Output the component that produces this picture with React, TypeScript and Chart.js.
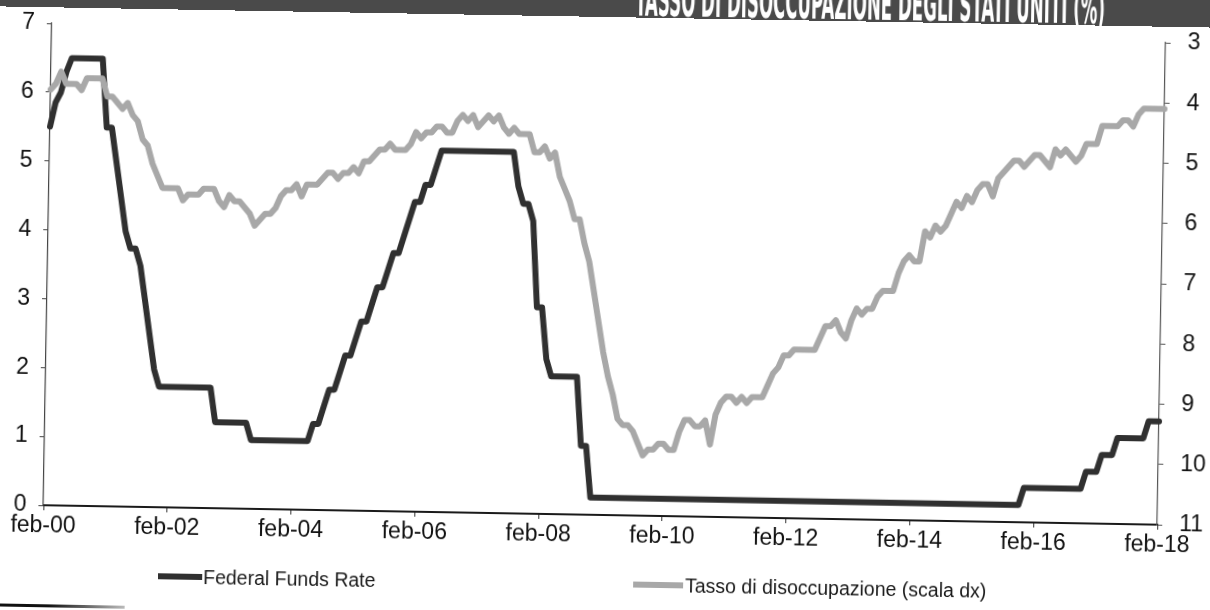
import React, { useEffect, useRef } from 'react';
import { Chart, registerables } from 'chart.js';

Chart.register(...registerables);

const MONTHS_IT = ['gen', 'feb', 'mar', 'apr', 'mag', 'giu', 'lug', 'ago', 'set', 'ott', 'nov', 'dic'];
const YEARS = [2000, 2001, 2002, 2003, 2004, 2005, 2006, 2007, 2008, 2009, 2010, 2011, 2012, 2013, 2014, 2015, 2016, 2017, 2018];

// monthly categories feb-00 ... feb-18
const LABELS: string[] = [];
for (const y of YEARS) {
  for (let m = 0; m < 12; m++) {
    if (y === 2000 && m < 1) continue;
    if (y === 2018 && m > 1) continue;
    LABELS.push(`${MONTHS_IT[m]}-${String(y).slice(2)}`);
  }
}
const TICK_EVERY = 24;

// Federal Funds Rate (%), monthly
const FFR_2000 = [5.5, 5.85, 6.0, 6.3, 6.5, 6.5, 6.5, 6.5, 6.5, 6.5, 6.5];
const FFR_2001 = [5.5, 5.5, 5.0, 4.5, 4.0, 3.75, 3.75, 3.5, 3.0, 2.5, 2.0, 1.75];
const FFR_2002 = [1.75, 1.75, 1.75, 1.75, 1.75, 1.75, 1.75, 1.75, 1.75, 1.75, 1.25, 1.25];
const FFR_2003 = [1.25, 1.25, 1.25, 1.25, 1.25, 1.0, 1.0, 1.0, 1.0, 1.0, 1.0, 1.0];
const FFR_2004 = [1.0, 1.0, 1.0, 1.0, 1.0, 1.25, 1.25, 1.5, 1.75, 1.75, 2.0, 2.25];
const FFR_2005 = [2.25, 2.5, 2.75, 2.75, 3.0, 3.25, 3.25, 3.5, 3.75, 3.75, 4.0, 4.25];
const FFR_2006 = [4.5, 4.5, 4.75, 4.75, 5.0, 5.25, 5.25, 5.25, 5.25, 5.25, 5.25, 5.25];
const FFR_2007 = [5.25, 5.25, 5.25, 5.25, 5.25, 5.25, 5.25, 5.25, 4.75, 4.5, 4.5, 4.25];
const FFR_2008 = [3.0, 3.0, 2.25, 2.0, 2.0, 2.0, 2.0, 2.0, 2.0, 1.0, 1.0, 0.25];
const FFR_2009 = [0.25, 0.25, 0.25, 0.25, 0.25, 0.25, 0.25, 0.25, 0.25, 0.25, 0.25, 0.25];
const FFR_2010 = [0.25, 0.25, 0.25, 0.25, 0.25, 0.25, 0.25, 0.25, 0.25, 0.25, 0.25, 0.25];
const FFR_2011 = [0.25, 0.25, 0.25, 0.25, 0.25, 0.25, 0.25, 0.25, 0.25, 0.25, 0.25, 0.25];
const FFR_2012 = [0.25, 0.25, 0.25, 0.25, 0.25, 0.25, 0.25, 0.25, 0.25, 0.25, 0.25, 0.25];
const FFR_2013 = [0.25, 0.25, 0.25, 0.25, 0.25, 0.25, 0.25, 0.25, 0.25, 0.25, 0.25, 0.25];
const FFR_2014 = [0.25, 0.25, 0.25, 0.25, 0.25, 0.25, 0.25, 0.25, 0.25, 0.25, 0.25, 0.25];
const FFR_2015 = [0.25, 0.25, 0.25, 0.25, 0.25, 0.25, 0.25, 0.25, 0.25, 0.25, 0.25, 0.5];
const FFR_2016 = [0.5, 0.5, 0.5, 0.5, 0.5, 0.5, 0.5, 0.5, 0.5, 0.5, 0.5, 0.75];
const FFR_2017 = [0.75, 0.75, 1.0, 1.0, 1.0, 1.25, 1.25, 1.25, 1.25, 1.25, 1.25, 1.5];
const FFR_2018 = [1.5, 1.5];

// Tasso di disoccupazione USA (%), monthly
const UNEMP_2000 = [4.1, 4.0, 3.8, 4.0, 4.0, 4.0, 4.1, 3.9, 3.9, 3.9, 3.9];
const UNEMP_2001 = [4.2, 4.2, 4.3, 4.4, 4.3, 4.5, 4.6, 4.9, 5.0, 5.3, 5.5, 5.7];
const UNEMP_2002 = [5.7, 5.7, 5.7, 5.9, 5.8, 5.8, 5.8, 5.7, 5.7, 5.7, 5.9, 6.0];
const UNEMP_2003 = [5.8, 5.9, 5.9, 6.0, 6.1, 6.3, 6.2, 6.1, 6.1, 6.0, 5.8, 5.7];
const UNEMP_2004 = [5.7, 5.6, 5.8, 5.6, 5.6, 5.6, 5.5, 5.4, 5.4, 5.5, 5.4, 5.4];
const UNEMP_2005 = [5.3, 5.4, 5.2, 5.2, 5.1, 5.0, 5.0, 4.9, 5.0, 5.0, 5.0, 4.9];
const UNEMP_2006 = [4.7, 4.8, 4.7, 4.7, 4.6, 4.6, 4.7, 4.7, 4.5, 4.4, 4.5, 4.4];
const UNEMP_2007 = [4.6, 4.5, 4.4, 4.5, 4.4, 4.6, 4.7, 4.6, 4.7, 4.7, 4.7, 5.0];
const UNEMP_2008 = [5.0, 4.9, 5.1, 5.0, 5.4, 5.6, 5.8, 6.1, 6.1, 6.5, 6.8, 7.3];
const UNEMP_2009 = [7.8, 8.3, 8.7, 9.0, 9.4, 9.5, 9.5, 9.6, 9.8, 10.0, 9.9, 9.9];
const UNEMP_2010 = [9.8, 9.8, 9.9, 9.9, 9.6, 9.4, 9.4, 9.5, 9.5, 9.4, 9.8, 9.3];
const UNEMP_2011 = [9.1, 9.0, 9.0, 9.1, 9.0, 9.1, 9.0, 9.0, 9.0, 8.8, 8.6, 8.5];
const UNEMP_2012 = [8.3, 8.3, 8.2, 8.2, 8.2, 8.2, 8.2, 8.0, 7.8, 7.8, 7.7, 7.9];
const UNEMP_2013 = [8.0, 7.7, 7.5, 7.6, 7.5, 7.5, 7.3, 7.2, 7.2, 7.2, 6.9, 6.7];
const UNEMP_2014 = [6.6, 6.7, 6.7, 6.2, 6.3, 6.1, 6.2, 6.1, 5.9, 5.7, 5.8, 5.6];
const UNEMP_2015 = [5.7, 5.5, 5.4, 5.4, 5.6, 5.3, 5.2, 5.1, 5.0, 5.0, 5.1, 5.0];
const UNEMP_2016 = [4.9, 4.9, 5.0, 5.1, 4.8, 4.9, 4.8, 4.9, 5.0, 4.9, 4.7, 4.7];
const UNEMP_2017 = [4.7, 4.4, 4.4, 4.4, 4.4, 4.3, 4.3, 4.4, 4.2, 4.1, 4.1, 4.1];
const UNEMP_2018 = [4.1, 4.1];

const FFR = [
  ...FFR_2000, ...FFR_2001, ...FFR_2002, ...FFR_2003, ...FFR_2004, ...FFR_2005, ...FFR_2006,
  ...FFR_2007, ...FFR_2008, ...FFR_2009, ...FFR_2010, ...FFR_2011, ...FFR_2012, ...FFR_2013,
  ...FFR_2014, ...FFR_2015, ...FFR_2016, ...FFR_2017, ...FFR_2018,
];
const UNEMP = [
  ...UNEMP_2000, ...UNEMP_2001, ...UNEMP_2002, ...UNEMP_2003, ...UNEMP_2004, ...UNEMP_2005,
  ...UNEMP_2006, ...UNEMP_2007, ...UNEMP_2008, ...UNEMP_2009, ...UNEMP_2010, ...UNEMP_2011,
  ...UNEMP_2012, ...UNEMP_2013, ...UNEMP_2014, ...UNEMP_2015, ...UNEMP_2016, ...UNEMP_2017,
  ...UNEMP_2018,
];

const SERIES_NAMES = ['Federal Funds Rate', 'Tasso di disoccupazione (scala dx)'];
const TITLE = 'TASSO DI DISOCCUPAZIONE DEGLI STATI UNITI (%)';

const FFR_COLOR = '#303030';
const UNEMP_COLOR = '#a8a8a8';
const FONT = "'Liberation Sans', Arial, sans-serif";

export default function App() {
  const canvasRef = useRef<HTMLCanvasElement | null>(null);
  const titleRef = useRef<HTMLSpanElement | null>(null);

  useEffect(() => {
    const t = titleRef.current;
    if (t) {
      const w = t.offsetWidth;
      if (w > 0) t.style.transform = `scaleX(${470 / w})`;
    }
    const canvas = canvasRef.current;
    if (!canvas) return;
    const chart = new Chart(canvas, {
      type: 'line',
      data: {
        labels: LABELS,
        datasets: [
          {
            label: SERIES_NAMES[0],
            data: FFR,
            yAxisID: 'y',
            borderColor: FFR_COLOR,
            backgroundColor: FFR_COLOR,
            borderWidth: 6,
            pointRadius: 0,
            tension: 0,
            borderJoinStyle: 'round',
            borderCapStyle: 'round',
            order: 2,
          },
          {
            label: SERIES_NAMES[1],
            data: UNEMP,
            yAxisID: 'y1',
            borderColor: UNEMP_COLOR,
            backgroundColor: UNEMP_COLOR,
            borderWidth: 6,
            pointRadius: 0,
            tension: 0,
            borderJoinStyle: 'round',
            borderCapStyle: 'round',
            order: 1,
          },
        ],
      },
      options: {
        responsive: false,
        animation: false,
        devicePixelRatio: 1,
        events: [],
        layout: { padding: { top: 33, bottom: 45, left: 0, right: 0 } },
        plugins: {
          legend: { display: false },
          title: { display: false },
          tooltip: { enabled: false },
        },
        scales: {
          x: {
            type: 'category',
            offset: false,
            grid: { drawOnChartArea: false, drawTicks: true, tickLength: 5, color: '#333', lineWidth: 1 },
            border: { display: true, color: '#1a1a1a', width: 2 },
            ticks: {
              autoSkip: false,
              maxRotation: 0,
              minRotation: 0,
              padding: 2,
              color: '#111',
              font: { family: FONT, size: 23 },
              callback: (_v: any, i: number) => (i % TICK_EVERY === 0 ? LABELS[i] : null),
            },
            afterFit: (s: any) => {
              s.height = 50;
            },
          },
          y: {
            position: 'left',
            min: 0,
            max: 7,
            grid: { drawOnChartArea: false, drawTicks: true, tickLength: 5, color: '#444' },
            border: { display: true, color: '#444', width: 1.2 },
            ticks: { stepSize: 1, padding: 12, color: '#111', font: { family: FONT, size: 23 } },
            afterFit: (s: any) => {
              s.width = 47;
            },
          },
          y1: {
            position: 'right',
            min: 3,
            max: 11,
            reverse: true,
            grid: { drawOnChartArea: false, drawTicks: true, tickLength: 5, color: '#555' },
            border: { display: true, color: '#555', width: 1.2 },
            ticks: { stepSize: 1, padding: 17, color: '#111', font: { family: FONT, size: 23 } },
            afterFit: (s: any) => {
              s.width = 49;
            },
          },
        },
      },
    });
    return () => chart.destroy();
  }, []);

  const legendText: React.CSSProperties = {
    position: 'absolute',
    top: 572,
    fontFamily: FONT,
    fontSize: 19.5,
    lineHeight: '24px',
    color: '#1a1a1a',
    whiteSpace: 'nowrap',
  };

  return (
    <div style={{ position: 'fixed', left: 0, top: 0, width: 1210, height: 610, overflow: 'hidden', background: '#fff' }}>
      <div
        style={{
          position: 'absolute',
          left: -40,
          top: -40,
          width: 1290,
          height: 690,
          background: '#fff',
          transform: 'rotate(1deg)',
          transformOrigin: '645px 345px',
        }}
      >
        <div style={{ position: 'absolute', left: 40, top: 40, width: 1210, height: 610 }}>
          <canvas ref={canvasRef} width={1210} height={610} style={{ display: 'block', width: 1210, height: 610 }} />
          <div style={{ position: 'absolute', left: 163, top: 581, width: 44, height: 6, background: FFR_COLOR }} />
          <div style={{ ...legendText, left: 208 }}>{SERIES_NAMES[0]}</div>
          <div style={{ position: 'absolute', left: 638, top: 581, width: 50, height: 6, background: UNEMP_COLOR }} />
          <div style={{ ...legendText, left: 690 }}>{SERIES_NAMES[1]}</div>
        </div>
        <div style={{ position: 'absolute', left: 0, top: 0, width: 1290, height: 57, background: '#4a4a4a', overflow: 'hidden' }}>
          <span
            ref={titleRef}
            style={{
              position: 'absolute',
              right: 150,
              top: 18,
              fontFamily: "'Liberation Sans Narrow', 'DejaVu Sans Condensed', Arial, sans-serif",
              fontWeight: 'bold',
              fontSize: 44,
              lineHeight: '44px',
              color: '#fff',
              whiteSpace: 'nowrap',
              transformOrigin: 'right center',
              display: 'inline-block',
            }}
          >
            {TITLE}
          </span>
        </div>
        <div
          style={{
            position: 'absolute',
            left: 0,
            top: 654,
            width: 170,
            height: 3,
            background: 'linear-gradient(to right, #111 0%, #111 55%, #bbb 100%)',
          }}
        />
      </div>
    </div>
  );
}
